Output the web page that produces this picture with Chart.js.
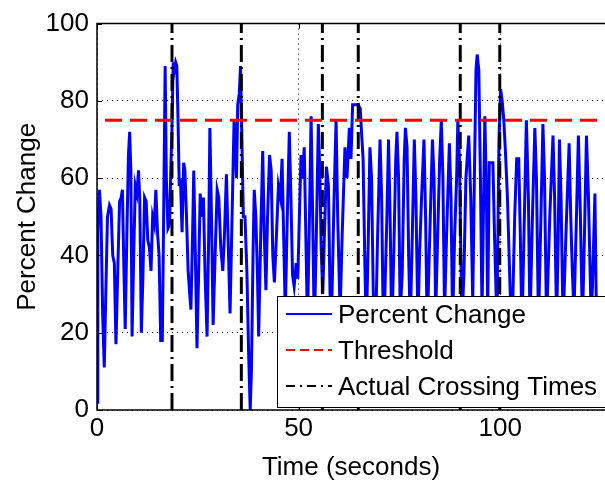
<!DOCTYPE html>
<html>
<head>
<meta charset="utf-8">
<script src="https://cdn.jsdelivr.net/npm/chart.js@4"></script>
<style>
  html, body { margin: 0; padding: 0; background: #fff; }
</style>
</head>
<body>
<canvas id="chart" width="605" height="483"></canvas>
<script>
// time stamps (seconds) and percent change
var times = [0.0, 0.2, 0.6, 1.0, 1.4, 1.8, 2.2, 2.6, 3.1, 3.5, 3.9, 4.3, 4.7, 5.2, 5.6, 6.0, 6.3, 6.7, 7.0, 7.4,
  7.8, 8.1, 8.4, 8.7, 9.1, 9.5, 9.9, 10.3, 10.6, 11.0, 11.4, 11.8, 12.2, 12.6, 13.0, 13.4, 13.8, 14.2, 14.6, 15.0,
  15.4, 15.8, 16.2, 16.5, 16.9, 17.2, 17.6, 18.0, 18.3, 18.6, 18.9, 19.2, 19.5, 19.8, 20.1, 20.4,
  20.7, 21.1, 21.5, 21.8, 22.2, 22.6, 23.0, 23.3, 23.7, 24.0, 24.4, 24.8, 25.2, 25.6, 26.0, 26.4, 26.8, 27.3,
  27.7, 28.0, 28.4, 28.8, 29.3, 29.8, 30.2, 30.7, 31.2, 31.6, 32.1, 32.5, 33.0, 33.5, 34.0, 34.3, 34.6, 34.9,
  35.3, 35.6, 35.9, 36.3, 36.7, 37.2, 37.6, 38.0, 38.3, 38.7, 39.0, 39.4, 39.8, 40.1, 40.6, 41.1, 41.5, 41.9,
  42.3, 42.8, 43.2, 43.6, 44.0, 44.5, 45.0, 45.5, 45.9, 46.3, 46.7, 47.2, 47.7, 48.1, 48.5, 48.9, 49.4, 49.8,
  50.2, 50.6, 51.0, 51.4, 51.8, 52.2, 52.7, 53.1, 53.5, 53.9, 54.4, 54.9, 55.3, 55.6, 56.0, 56.4, 56.9, 57.4,
  57.8, 58.2, 58.8, 59.3, 59.7, 60.3, 60.8, 61.5, 62.0, 62.6, 63.0, 63.4, 63.8, 64.3, 64.8, 65.3, 65.6, 66.0,
  66.4, 66.8, 67.3, 67.7, 68.1, 68.6, 69.1, 69.6, 70.2, 70.6, 71.0, 71.4, 71.9, 72.3, 72.7, 73.1, 73.6, 74.1,
  74.4, 74.8, 75.2, 75.7, 76.2, 76.5, 76.9, 77.3, 77.7, 78.2, 78.7, 79.1, 79.6, 80.0, 80.5, 81.1, 81.5, 81.9,
  82.4, 83.2, 83.6, 84.0, 84.5, 85.0, 85.4, 85.8, 86.2, 86.7, 87.4, 87.8, 88.2, 88.7, 89.2, 89.5, 89.9, 90.5,
  91.0, 91.5, 92.2, 92.7, 93.2, 93.6, 94.0, 94.3, 94.7, 95.1, 95.5, 95.9, 96.2, 96.6, 96.9, 97.3, 97.8, 98.2,
  98.6, 99.2, 99.7, 100.1, 100.5, 100.9, 101.3, 101.8, 102.5, 103.0, 103.6, 104.1, 104.6, 105.0, 105.4, 106.0,
  106.5, 107.0, 107.4, 108.0, 108.6, 109.0, 109.5, 110.0, 110.6, 111.0, 111.5, 112.3, 113.1, 113.5, 114.0, 114.4,
  114.7, 115.1, 115.6, 116.3, 117.1, 117.5, 117.9, 118.3, 118.8, 119.4, 119.9, 120.4, 120.9, 121.4, 121.9, 122.6,
  123.1, 123.5, 123.8, 124.1];
var percentChange = [2, 46, 57, 50, 25, 11, 31, 50, 53, 52, 40, 38, 17, 38, 54, 55, 57, 35, 21, 45,
  66, 72, 62, 19, 40, 58, 56, 62, 55, 20, 35, 55, 54, 44, 42, 36, 50, 48, 57, 46,
  40, 18, 18, 47, 89, 60, 47, 48, 62, 73, 90, 88, 90, 89, 75, 58,
  60, 46, 64, 62, 50, 36, 30, 26, 45, 62, 40, 16, 35, 56, 50, 55, 35, 19,
  45, 73, 50, 22, 40, 57, 55, 42, 36, 45, 61, 45, 25, 50, 75, 70, 60, 79,
  82, 89, 72, 50, 50, 35, 15, 0, 10, 40, 57, 50, 35, 19, 45, 67, 45, 31,
  50, 66, 62, 40, 33, 45, 58, 55, 65, 45, 25, 50, 72, 55, 35, 32, 38, 34,
  50, 66, 60, 68, 45, 22, 50, 76, 50, 20, 45, 74, 60, 42, 30, 45, 63, 58,
  30, 25, 55, 75, 50, 25, 45, 68, 60, 73, 65, 79, 79, 79, 79, 78, 72, 65,
  40, 20, 45, 68, 60, 25, 20, 45, 70, 55, 22, 30, 50, 70, 50, 20, 40, 65,
  72, 60, 25, 35, 65, 73, 68, 40, 22, 45, 70, 55, 22, 40, 55, 70, 50, 20,
  40, 70, 60, 25, 45, 65, 75, 60, 25, 45, 69, 55, 22, 45, 60, 75, 65, 22,
  35, 60, 71, 55, 28, 60, 88, 92, 88, 60, 25, 55, 76, 55, 25, 64, 64, 64,
  45, 22, 70, 83, 80, 75, 67, 55, 30, 22, 50, 65, 65, 45, 20, 50,
  75, 55, 22, 50, 73, 60, 22, 45, 74, 60, 22, 50, 71, 55, 22, 45,
  70, 55, 22, 45, 69, 50, 36, 25, 45, 71, 50, 22, 45, 71, 55, 22,
  40, 56, 30, 22];
var threshold = 75;
var crossingTimes = [18.6, 35.8, 55.9, 64.8, 90.1, 99.9];
var xTicks = [0, 50, 100];
var yTicks = [0, 20, 40, 60, 80, 100];
var xMax = 126;

var FONT = '"Liberation Sans", Arial, Helvetica, sans-serif';

var crossingPts = [];
crossingTimes.forEach(function (t) {
  crossingPts.push({x: t, y: 0}, {x: t, y: 100}, {x: t, y: null});
});

// frame, inward ticks and the in-axes legend (MATLAB look)
var matlabBits = {
  id: 'matlabBits',
  afterDatasetsDraw: function (chart) {
    var ctx = chart.ctx, a = chart.chartArea;
    var xs = chart.scales.x, ys = chart.scales.y;
    ctx.save();
    ctx.strokeStyle = '#000';
    ctx.lineWidth = 1;
    ctx.setLineDash([]);
    ctx.beginPath();
    yTicks.forEach(function (v) {
      var py = Math.round(ys.getPixelForValue(v)) + 0.5;
      ctx.moveTo(a.left, py); ctx.lineTo(a.left + 5, py);
    });
    xTicks.forEach(function (v) {
      var px = Math.round(xs.getPixelForValue(v)) + 0.5;
      ctx.moveTo(px, a.bottom); ctx.lineTo(px, a.bottom - 5);
      ctx.moveTo(px, a.top); ctx.lineTo(px, a.top + 5);
    });
    ctx.stroke();

    // legend box
    var lx = 277.5, ly = 296.5, lw = 340, lh = 111;
    ctx.fillStyle = '#fff';
    ctx.fillRect(lx, ly, lw, lh);
    ctx.strokeRect(lx, ly, lw, lh);
    var rows = chart.data.datasets;
    var rowY = [314, 350, 386];
    ctx.font = '26px ' + FONT;
    ctx.textBaseline = 'middle';
    ctx.textAlign = 'left';
    rows.forEach(function (ds, i) {
      ctx.beginPath();
      ctx.strokeStyle = ds.borderColor;
      ctx.lineWidth = 2;
      ctx.setLineDash(ds.legendDash);
      ctx.moveTo(286, rowY[i]); ctx.lineTo(332, rowY[i]);
      ctx.stroke();
      ctx.setLineDash([]);
      ctx.fillStyle = '#000';
      ctx.fillText(ds.label, 338, rowY[i] + 2);
    });

    // axes frame
    ctx.strokeStyle = '#000';
    ctx.lineWidth = 1.5;
    ctx.beginPath();
    ctx.moveTo(a.right + 2, a.top);
    ctx.lineTo(a.left, a.top);
    ctx.lineTo(a.left, a.bottom);
    ctx.lineTo(a.right + 2, a.bottom);
    ctx.stroke();
    ctx.restore();
  }
};

var ctx = document.getElementById('chart').getContext('2d');
var chart = new Chart(ctx, {
  type: 'line',
  data: {
    datasets: [{
      label: 'Percent Change',
      data: times.map(function (t, i) { return {x: t, y: percentChange[i]}; }),
      borderColor: '#0000ff',
      borderWidth: 3,
      pointRadius: 0,
      tension: 0,
      legendDash: [],
      order: 3
    }, {
      label: 'Threshold',
      data: [{x: 0, y: threshold}, {x: xMax, y: threshold}],
      borderColor: '#ff0000',
      borderWidth: 3,
      borderDash: [17, 8],
      borderDashOffset: -8,
      pointRadius: 0,
      legendDash: [9, 5],
      order: 1
    }, {
      label: 'Actual Crossing Times',
      data: crossingPts,
      borderColor: '#000000',
      borderWidth: 3,
      borderDash: [17, 5, 2, 5],
      pointRadius: 0,
      spanGaps: false,
      legendDash: [9, 5, 2, 5],
      order: 2
    }]
  },
  options: {
    responsive: false,
    animation: false,
    layout: { padding: { top: 20, right: 0, left: 0, bottom: 0 } },
    plugins: { legend: { display: false }, tooltip: { enabled: false } },
    scales: {
      x: {
        type: 'linear',
        min: 0,
        max: xMax,
        afterBuildTicks: function (s) { s.ticks = xTicks.map(function (v) { return {value: v}; }); },
        afterFit: function (s) { s.height = 73; },
        grid: { color: '#000', lineWidth: 1, drawTicks: false },
        border: { display: false, dash: [1, 4] },
        ticks: { color: '#000', font: { family: FONT, size: 26 }, padding: 3, maxRotation: 0 },
        title: { display: true, text: 'Time (seconds)', color: '#000', font: { family: FONT, size: 26 }, padding: 0 }
      },
      y: {
        min: 0,
        max: 100,
        afterBuildTicks: function (s) { s.ticks = yTicks.map(function (v) { return {value: v}; }); },
        afterFit: function (s) { s.width = 97; },
        grid: { color: '#000', lineWidth: 1, drawTicks: false },
        border: { display: false, dash: [1, 4] },
        ticks: { color: '#000', font: { family: FONT, size: 26 }, padding: 8 },
        title: { display: true, text: 'Percent Change', color: '#000', font: { family: FONT, size: 26 }, padding: { top: 12, bottom: 0 } }
      }
    }
  },
  plugins: [matlabBits]
});
</script>
</body>
</html>
